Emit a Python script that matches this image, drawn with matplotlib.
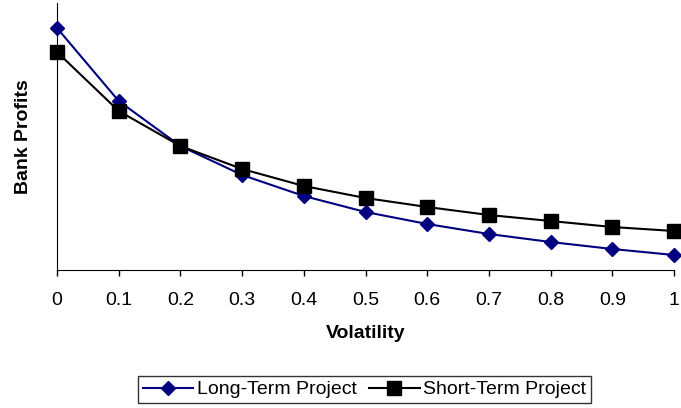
import matplotlib
matplotlib.use('Agg')
import matplotlib.pyplot as plt

plt.rcParams['font.family'] = ['Liberation Sans', 'DejaVu Sans']

volatility = [0, 0.1, 0.2, 0.3, 0.4, 0.5, 0.6, 0.7, 0.8, 0.9, 1.0]
long_term = [242, 169, 124, 95, 74, 58, 46, 36, 28, 21, 15]      # estimated, arbitrary units
short_term = [218, 159, 124, 101, 84, 72, 63, 55, 49, 43, 39]
xtick_labels = ['0', '0.1', '0.2', '0.3', '0.4', '0.5', '0.6', '0.7', '0.8', '0.9', '1']

fig = plt.figure(figsize=(6.81, 4.08), dpi=100)
ax = fig.add_axes([57/681, 138/408, 617/681, 267/408])

ax.plot(volatility, long_term, color='#000080', marker='D', markersize=7,
        linewidth=1.5, label='Long-Term Project', clip_on=False, zorder=3)
ax.plot(volatility, short_term, color='black', marker='s', markersize=10,
        linewidth=1.5, label='Short-Term Project', clip_on=False, zorder=4)

ax.set_xlim(0, 1)
ax.set_ylim(0, 267)
ax.set_xticks(volatility)
ax.set_xticklabels(xtick_labels, fontsize=14)
ax.set_yticks([])
ax.tick_params(axis='x', direction='out', length=4.5, width=1, pad=11)
ax.spines['top'].set_visible(False)
ax.spines['right'].set_visible(False)
ax.set_xlabel('Volatility', fontsize=14, fontweight='bold', labelpad=12)
ax.set_ylabel('Bank Profits', fontsize=14, fontweight='bold', labelpad=18)

leg = fig.legend(loc='center', bbox_to_anchor=(364.5/681, 1 - 389.5/408), ncol=2,
                 fontsize=14, frameon=True, fancybox=False, edgecolor='black',
                 handlelength=2.6, columnspacing=0.62, handletextpad=0.2,
                 borderpad=0.25, borderaxespad=0)
leg.get_frame().set_linewidth(1)

fig.savefig('out.png', dpi=100)
